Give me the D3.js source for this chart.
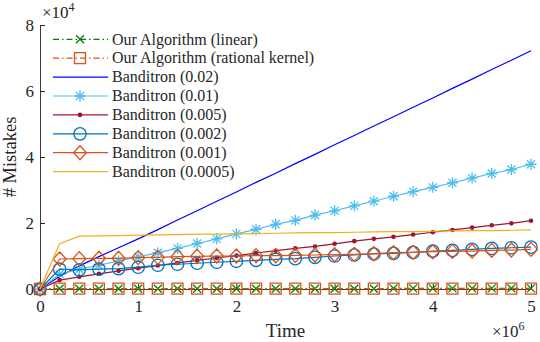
<!DOCTYPE html>
<html lang="en">
<head>
	<meta charset="UTF-8">
	<title>Mistakes over time</title>
	<style>
		body { margin: 0; background: #fff; }
		.chart .axis path, .chart .axis line {
		  stroke: #262626;
		}
	</style>
</head>
<body>
<svg class="chart"></svg>
<script src="https://d3js.org/d3.v7.min.js"></script>
<script type="text/javascript">
	// time, in units of 10^6
	var time = [0, 0.2, 0.4, 0.6, 0.8, 1.0, 1.2, 1.4, 1.6, 1.8, 2.0, 2.2, 2.4,
	            2.6, 2.8, 3.0, 3.2, 3.4, 3.6, 3.8, 4.0, 4.2, 4.4, 4.6, 4.8, 5.0];

	// mistakes, in units of 10^4
	var ourLinear   = [0, 0.01, 0.01, 0.01, 0.01, 0.01, 0.01, 0.01, 0.01, 0.01, 0.01, 0.01, 0.01,
	                   0.01, 0.01, 0.01, 0.01, 0.01, 0.02, 0.02, 0.02, 0.02, 0.02, 0.02, 0.02, 0.02];
	var ourRational = [0, 0.01, 0.01, 0.01, 0.01, 0.01, 0.01, 0.01, 0.01, 0.01, 0.01, 0.01, 0.01,
	                   0.01, 0.01, 0.01, 0.01, 0.01, 0.01, 0.01, 0.01, 0.01, 0.01, 0.01, 0.01, 0.01];
	var band02   = [0, 0.38, 0.70, 0.98, 1.25, 1.52, 1.80, 2.09, 2.37, 2.66, 2.94, 3.23, 3.51,
	                3.80, 4.08, 4.37, 4.65, 4.94, 5.22, 5.51, 5.79, 6.08, 6.36, 6.65, 6.93, 7.22];
	var band01   = [0, 0.45, 0.60, 0.72, 0.85, 0.97, 1.10, 1.23, 1.38, 1.52, 1.67, 1.81, 1.96,
	                2.08, 2.24, 2.37, 2.52, 2.66, 2.81, 2.95, 3.08, 3.22, 3.36, 3.50, 3.62, 3.78];
	var band005  = [0, 0.27, 0.37, 0.46, 0.55, 0.63, 0.71, 0.79, 0.87, 0.94, 1.01, 1.09, 1.16,
	                1.23, 1.29, 1.37, 1.45, 1.52, 1.58, 1.65, 1.72, 1.79, 1.86, 1.93, 1.99, 2.07];
	var band002  = [0, 0.60, 0.58, 0.60, 0.62, 0.66, 0.72, 0.75, 0.78, 0.81, 0.84, 0.87, 0.90,
	                0.92, 0.96, 1.00, 1.03, 1.06, 1.08, 1.11, 1.15, 1.17, 1.20, 1.23, 1.25, 1.27];
	var band001  = [0, 0.91, 0.92, 0.93, 0.93, 0.95, 0.96, 0.98, 0.99, 1.00, 1.00, 1.01, 1.01,
	                1.02, 1.03, 1.04, 1.05, 1.07, 1.10, 1.11, 1.13, 1.14, 1.15, 1.17, 1.18, 1.20];
	var band0005 = [0, 1.37, 1.60, 1.61, 1.62, 1.63, 1.64, 1.65, 1.66, 1.66, 1.67, 1.68, 1.69,
	                1.70, 1.71, 1.71, 1.72, 1.73, 1.74, 1.74, 1.75, 1.76, 1.77, 1.77, 1.78, 1.79];

	var xTicks = [0, 1, 2, 3, 4, 5];
	var yTicks = [0, 2, 4, 6, 8];

	var series = [
		{ name: "Our Algorithm (linear)",          values: ourLinear,   color: "#008000", dash: "6,3,1.5,3", marker: "x" },
		{ name: "Our Algorithm (rational kernel)", values: ourRational, color: "#D95319", dash: "6,3,1.5,3", marker: "square" },
		{ name: "Banditron (0.02)",   values: band02,   color: "#0000FF", dash: null, marker: null },
		{ name: "Banditron (0.01)",   values: band01,   color: "#4DBEEE", dash: null, marker: "asterisk" },
		{ name: "Banditron (0.005)",  values: band005,  color: "#A2142F", dash: null, marker: "dot" },
		{ name: "Banditron (0.002)",  values: band002,  color: "#0072BD", dash: null, marker: "circle" },
		{ name: "Banditron (0.001)",  values: band001,  color: "#D95319", dash: null, marker: "diamond" },
		{ name: "Banditron (0.0005)", values: band0005, color: "#EDB120", dash: null, marker: null }
	];

	var serif = '"Liberation Serif", "Times New Roman", "DejaVu Serif", serif';

	var width = 540,
	    height = 342,
	    margin = { top: 25, right: 9, bottom: 53, left: 40 };

	var svg = d3.select(".chart")
	    .attr("width", width)
	    .attr("height", height)
	    .style("font-family", serif);

	var x = d3.scaleLinear()
	    .domain([0, 5])
	    .range([margin.left, width - margin.right]);

	var y = d3.scaleLinear()
	    .domain([0, 8])
	    .range([height - margin.bottom, margin.top]);

	// marker shapes, MATLAB style
	function markerPath(type) {
		switch (type) {
			case "x": return "M-4,-4L4,4M-4,4L4,-4";
			case "square": return "M-5.5,-5.5H5.5V5.5H-5.5Z";
			case "diamond": return "M0,-7L6.5,0L0,7L-6.5,0Z";
			case "asterisk": return "M-5.5,0H5.5M0,-5.5V5.5M-4,-4L4,4M-4,4L4,-4";
			default: return null;
		}
	}

	function drawMarker(g, type, color) {
		if (type === "circle") {
			g.append("circle").attr("r", 6.2)
			    .attr("fill", "none").attr("stroke", color).attr("stroke-width", 1.3);
		} else if (type === "dot") {
			g.append("circle").attr("r", 2.3).attr("fill", color);
		} else if (type) {
			g.append("path").attr("d", markerPath(type))
			    .attr("fill", "none").attr("stroke", color).attr("stroke-width", 1.3);
		}
	}

	function styleText(sel, size) {
		sel.style("font-family", serif).style("font-size", size).attr("fill", "#262626");
	}

	// axes (ticks point inward)
	svg.append("g")
	    .attr("class", "axis")
	    .attr("transform", "translate(0," + y(0) + ")")
	    .call(d3.axisBottom(x).tickValues(xTicks).tickFormat(d3.format("d"))
	        .tickSizeInner(-5).tickSizeOuter(0).tickPadding(11))
	    .call(g => styleText(g.selectAll("text"), "17px"));

	svg.append("g")
	    .attr("class", "axis")
	    .attr("transform", "translate(" + x(0) + ",0)")
	    .call(d3.axisLeft(y).tickValues(yTicks).tickFormat(d3.format("d"))
	        .tickSizeInner(-5).tickSizeOuter(0).tickPadding(6))
	    .call(g => styleText(g.selectAll("text"), "17px"));

	svg.selectAll(".axis .domain").attr("stroke-width", 0.9);

	// lines
	var line = d3.line()
	    .x(function(d, i) { return x(time[i]); })
	    .y(function(d) { return y(d); });

	var plot = svg.append("g");

	series.forEach(function(s) {
		plot.append("path")
		    .attr("d", line(s.values))
		    .attr("fill", "none")
		    .attr("stroke", s.color)
		    .attr("stroke-width", 1.2)
		    .attr("stroke-dasharray", s.dash);

		if (s.marker) {
			plot.selectAll(null)
			    .data(s.values)
			    .enter().append("g")
			    .attr("transform", function(d, i) { return "translate(" + x(time[i]) + "," + y(d) + ")"; })
			    .each(function() { drawMarker(d3.select(this), s.marker, s.color); });
		}
	});

	// axis labels and exponents
	svg.append("text")
	    .attr("x", (x(0) + x(5)) / 2)
	    .attr("y", 337)
	    .attr("text-anchor", "middle")
	    .call(styleText, "19px")
	    .text("Time");

	svg.append("text")
	    .attr("transform", "translate(16," + ((y(0) + y(8)) / 2) + ") rotate(-90)")
	    .attr("text-anchor", "middle")
	    .call(styleText, "18.5px")
	    .text("# Mistakes");

	var e4 = svg.append("text").attr("x", 42).attr("y", 18).call(styleText, "17px");
	e4.append("tspan").text("\u00d710");
	e4.append("tspan").attr("dy", -7).style("font-size", "12px").text("4");

	var e6 = svg.append("text").attr("x", 492).attr("y", 337).call(styleText, "17px");
	e6.append("tspan").text("\u00d710");
	e6.append("tspan").attr("dy", -7).style("font-size", "12px").text("6");

	// legend
	var legend = svg.append("g");
	var rowH = 18.9;

	series.forEach(function(s, i) {
		var row = legend.append("g")
		    .attr("transform", "translate(0," + (39.3 + i * rowH) + ")");

		row.append("line")
		    .attr("x1", 53).attr("x2", 108)
		    .attr("stroke", s.color)
		    .attr("stroke-width", 1.2)
		    .attr("stroke-dasharray", s.dash);

		if (s.marker) {
			drawMarker(row.append("g").attr("transform", "translate(80,0)"), s.marker, s.color);
		}

		row.append("text")
		    .attr("x", 112)
		    .attr("dy", "0.33em")
		    .call(styleText, "16px")
		    .text(s.name);
	});
</script>
</body>
</html>
